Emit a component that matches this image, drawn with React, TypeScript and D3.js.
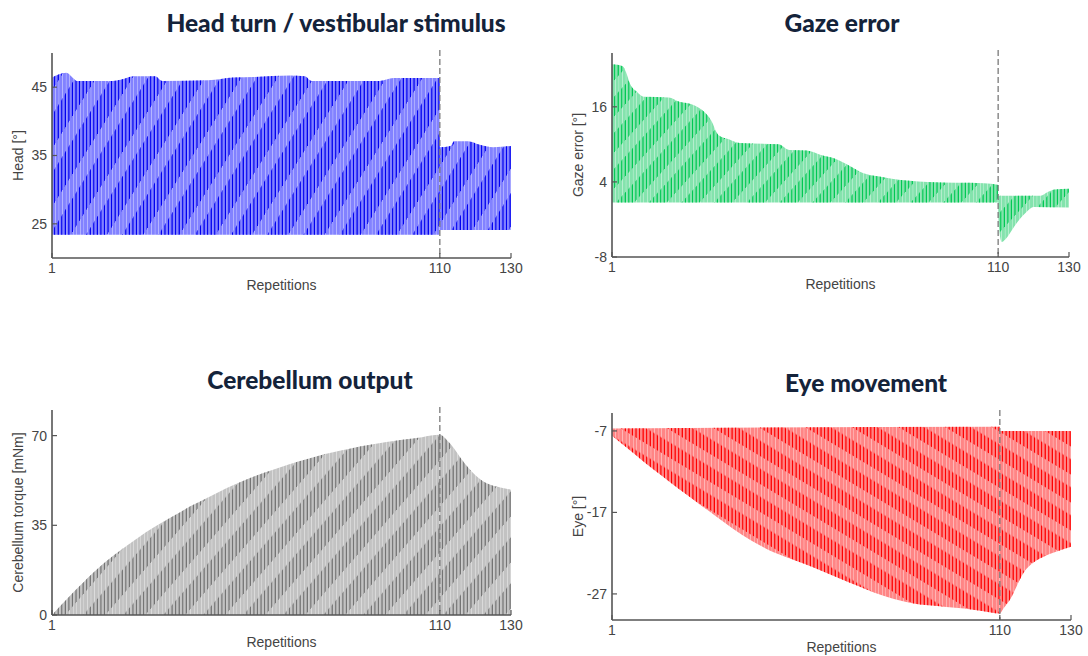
import React from 'react'
import * as d3 from 'd3'

// repetitions on the x axis
const reps = d3.range(1, 131)
const xTicks = [1, 110, 130]
const switchRep = 110

const headTicks = [25, 35, 45]
const gazeTicks = [-8, 4, 16]
const cereTicks = [0, 35, 70]
const eyeTicks = [-27, -17, -7]

// envelopes: [repetition, value]
const headHi = [[1, 46.4], [3, 46.9], [5, 47.1], [7, 46.3], [8, 45.9], [18, 45.9], [21, 46.2], [24, 46.6], [30, 46.6], [32, 45.9], [45, 46.0], [52, 46.4], [58, 46.5], [68, 46.7], [72, 46.6], [74, 45.9], [93, 45.9], [97, 46.35], [110, 46.35], [110, 36.2], [113, 36.4], [114, 37.1], [118, 37.1], [121, 36.6], [125, 36.2], [130, 36.4]]
const headLo = [[1, 23.4], [110, 23.4], [110, 24.1], [130, 24.1]]

const gazeHi = [[1, 22.8], [4, 22.5], [5, 21.5], [6, 19.8], [8, 18.4], [10, 17.6], [17, 17.5], [20, 16.8], [24, 16.3], [27, 15.2], [29, 13.8], [31, 11.5], [34, 10.8], [37, 10.2], [48, 10.0], [51, 9.1], [56, 9.0], [60, 8.3], [64, 7.7], [68, 6.6], [72, 5.4], [76, 4.9], [80, 4.5], [90, 4.0], [106, 3.8], [110, 3.5], [110, 1.8], [122, 1.8], [124, 2.4], [126, 2.8], [130, 2.9]]
const gazeLo = [[1, 0.7], [110, 0.7], [110, -1.5], [111, -5.6], [112, -5.2], [114, -3.6], [116, -2.0], [118, -0.8], [120, 0.0], [130, -0.1]]

const cereHi = [[1, 0], [5, 6], [10, 13], [15, 19.5], [20, 25], [25, 30], [30, 34.5], [35, 38.5], [40, 42.5], [45, 46], [50, 49.5], [55, 52.5], [60, 55.2], [65, 57.6], [70, 59.8], [75, 61.8], [80, 63.5], [85, 65], [90, 66.3], [95, 67.5], [100, 68.5], [105, 69.4], [110, 70.3], [112, 68.2], [114, 65], [116, 61], [118, 57.5], [120, 54.5], [122, 52.3], [124, 50.9], [127, 49.8], [130, 48.9]]
const cereLo = [[1, 0], [130, 0]]

const eyeHi = [[1, -6.7], [110, -6.5], [110, -7.0], [130, -7.0]]
const eyeLo = [[1, -7.6], [5, -9], [10, -10.8], [15, -12.5], [20, -14.2], [25, -15.8], [30, -17.4], [35, -19.0], [40, -20.4], [45, -21.6], [50, -22.5], [55, -23.3], [60, -24.2], [65, -25.1], [70, -26.0], [75, -26.9], [80, -27.6], [85, -28.1], [90, -28.4], [95, -28.6], [100, -28.8], [105, -29.1], [110, -29.4], [111, -28.8], [113, -27.6], [115, -25.8], [117, -24.2], [119, -23.3], [122, -22.5], [126, -21.8], [130, -21.2]]

const panels = [
  {
    id: 'head', title: 'Head turn / vestibular stimulus', titleX: 336, titleY: 32,
    left: 52, right: 511, top: 53, bottom: 258, yDomain: [20, 50], yTicks: headTicks,
    yLabel: 'Head [°]', hi: headHi, lo: headLo,
    light: '#8282ff', dark: '#0000f0', hatch: { slope: 1.6, period: 58, gap: 0.42 }
  },
  {
    id: 'gaze', title: 'Gaze error', titleX: 842, titleY: 32,
    left: 612, right: 1069, top: 53, bottom: 257, yDomain: [-8, 24.6], yTicks: gazeTicks,
    yLabel: 'Gaze error [°]', hi: gazeHi, lo: gazeLo,
    light: '#84e3ad', dark: '#00c853', hatch: { slope: 1.1, period: 36, gap: 0.45 }
  },
  {
    id: 'cere', title: 'Cerebellum output', titleX: 310, titleY: 389,
    left: 52, right: 511, top: 410, bottom: 615, yDomain: [0, 80], yTicks: cereTicks,
    yLabel: 'Cerebellum torque [mNm]', hi: cereHi, lo: cereLo,
    light: '#c2c2c2', dark: '#747474', hatch: { slope: 1.15, period: 46, gap: 0.45 }
  },
  {
    id: 'eye', title: 'Eye movement', titleX: 866, titleY: 392,
    left: 612, right: 1071, top: 413, bottom: 620, yDomain: [-30.2, -4.8], yTicks: eyeTicks,
    yLabel: 'Eye [°]', hi: eyeHi, lo: eyeLo,
    light: '#ff8585', dark: '#ff0000', hatch: { slope: -0.6, period: 28, gap: 0.45 }
  }
]

const axisColor = '#555'
const textColor = '#444'
const font = '"Liberation Sans", Arial, sans-serif'

const Panel = ({ p }) => {
  const x = d3.scaleLinear().domain([1, 130]).range([p.left, p.right])
  const y = d3.scaleLinear().domain(p.yDomain).range([p.bottom, p.top])
  const step = x(2) - x(1)
  const outline = d3.line().x(d => x(d[0])).y(d => y(d[1])).curve(d3.curveMonotoneX)
  const hiPath = outline(p.hi)
  const loPath = outline(p.lo.slice().reverse())
  const clipD = hiPath + 'L' + loPath.slice(1) + 'Z'
  const skew = -Math.atan(p.hatch.slope) * 180 / Math.PI
  const cycles = reps.slice(0, -1)
  const h = p.bottom - p.top

  return (
    <g>
      <defs>
        <clipPath id={`clip-${p.id}`}>
          <path d={clipD} />
        </clipPath>
        <pattern id={`hatch-${p.id}`} patternUnits="userSpaceOnUse" width={20} height={p.hatch.period}
          patternTransform={`skewY(${skew})`}>
          <rect width={20} height={p.hatch.period} fill="#fff" />
          <rect width={20} height={p.hatch.period * p.hatch.gap} fill="#000" />
        </pattern>
        <mask id={`mask-${p.id}`} maskUnits="userSpaceOnUse" x={p.left - 5} y={p.top - 5} width={p.right - p.left + 10} height={h + 10}>
          <rect x={p.left - 5} y={p.top - 5} width={p.right - p.left + 10} height={h + 10} fill={`url(#hatch-${p.id})`} />
        </mask>
      </defs>

      <text x={p.titleX} y={p.titleY} textAnchor="middle" fontFamily="Lato, sans-serif" fontWeight={900}
        fontSize={24.5} fill="#14233a">{p.title}</text>

      {/* bars, one per repetition cycle */}
      <g clipPath={`url(#clip-${p.id})`}>
        {cycles.map(r => (
          <rect key={r} x={x(r)} y={p.top} width={step - 0.3} height={h} fill={p.light} />
        ))}
        <g mask={`url(#mask-${p.id})`}>
          {cycles.map(r => (
            <rect key={r} x={x(r) + step * 0.58} y={p.top} width={1.3} height={h} fill={p.dark} />
          ))}
        </g>
      </g>

      <line x1={x(switchRep)} x2={x(switchRep)} y1={p.top - 3} y2={p.bottom} stroke="#7a7a7a"
        strokeWidth={1.3} strokeDasharray="6,3" />

      {/* axes */}
      <line x1={p.left} x2={p.left} y1={p.top} y2={p.bottom} stroke={axisColor} strokeWidth={1.6} />
      <line x1={p.left} x2={p.right} y1={p.bottom} y2={p.bottom} stroke={axisColor} strokeWidth={1.6} />
      {p.yTicks.map(t => (
        <g key={t}>
          <line x1={p.left} x2={p.left + 5} y1={y(t)} y2={y(t)} stroke={axisColor} strokeWidth={1.2} />
          <text x={p.left - 5} y={y(t)} dy="0.35em" textAnchor="end" fontFamily={font} fontSize={14} fill={textColor}>{t}</text>
        </g>
      ))}
      {xTicks.map(t => (
        <g key={t}>
          <line x1={x(t)} x2={x(t)} y1={p.bottom} y2={p.bottom - 5} stroke={axisColor} strokeWidth={1.2} />
          <text x={x(t)} y={p.bottom + 15} textAnchor="middle" fontFamily={font} fontSize={14} fill={textColor}>{t}</text>
        </g>
      ))}
      <text x={(p.left + p.right) / 2} y={p.bottom + 32} textAnchor="middle" fontFamily={font} fontSize={14} fill={textColor}>Repetitions</text>
      <text transform={`translate(${p.left - 34},${(p.top + p.bottom) / 2}) rotate(-90)`} dy="0.35em" textAnchor="middle"
        fontFamily={font} fontSize={14} fill={textColor}>{p.yLabel}</text>
    </g>
  )
}

export default function App() {
  return (
    <svg width={1088} height={656} style={{ position: 'absolute', left: 0, top: 0, background: '#fff' }}>
      {panels.map(p => <Panel key={p.id} p={p} />)}
    </svg>
  )
}
